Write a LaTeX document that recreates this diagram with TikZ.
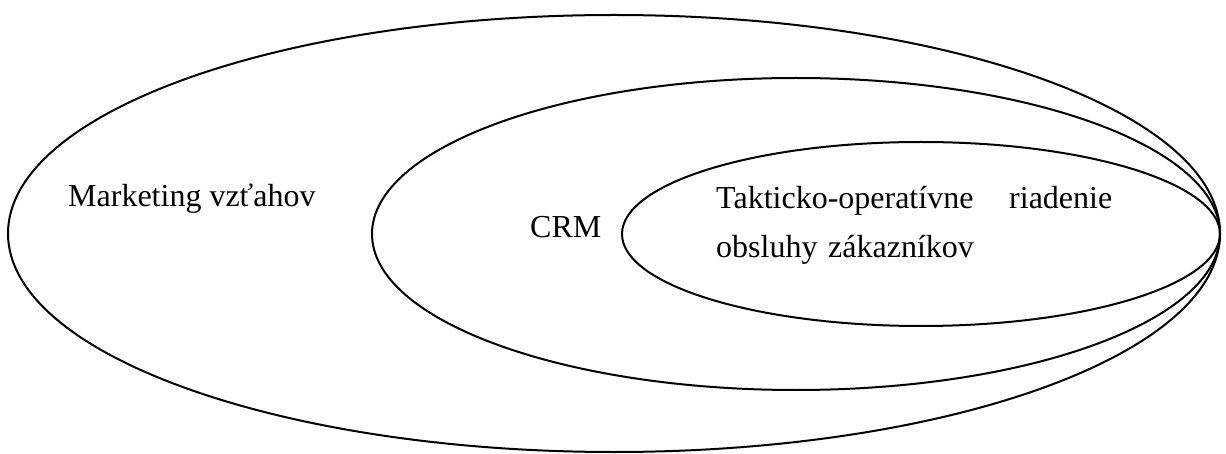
\documentclass[tikz,border=0pt]{standalone}
\usepackage{fontspec}
\setmainfont{Liberation Serif}
\begin{document}
\begin{tikzpicture}[x=1pt,y=-1pt,
  ring/.style={draw=black,line width=2pt},
  lbl/.style={inner sep=0pt,anchor=base west,font=\fontsize{32}{49}\selectfont}]
\useasboundingbox (0,0) rectangle (1226,454);
\draw[ring] (614,233.5) ellipse [x radius=606, y radius=218.5];
\draw[ring] (796,234) ellipse [x radius=424, y radius=156];
\draw[ring] (921,234) ellipse [x radius=299, y radius=92];
\node[lbl] (mv) at (68,207) {Marketing vzťahov};
\node[lbl] (crm) at (530,238) {CRM};
\node[lbl,text width=396pt,align=left] (tor) at (716,209) {Takticko-operatívne\hfill riadenie\\obsluhy zákazníkov};
\end{tikzpicture}
\end{document}
